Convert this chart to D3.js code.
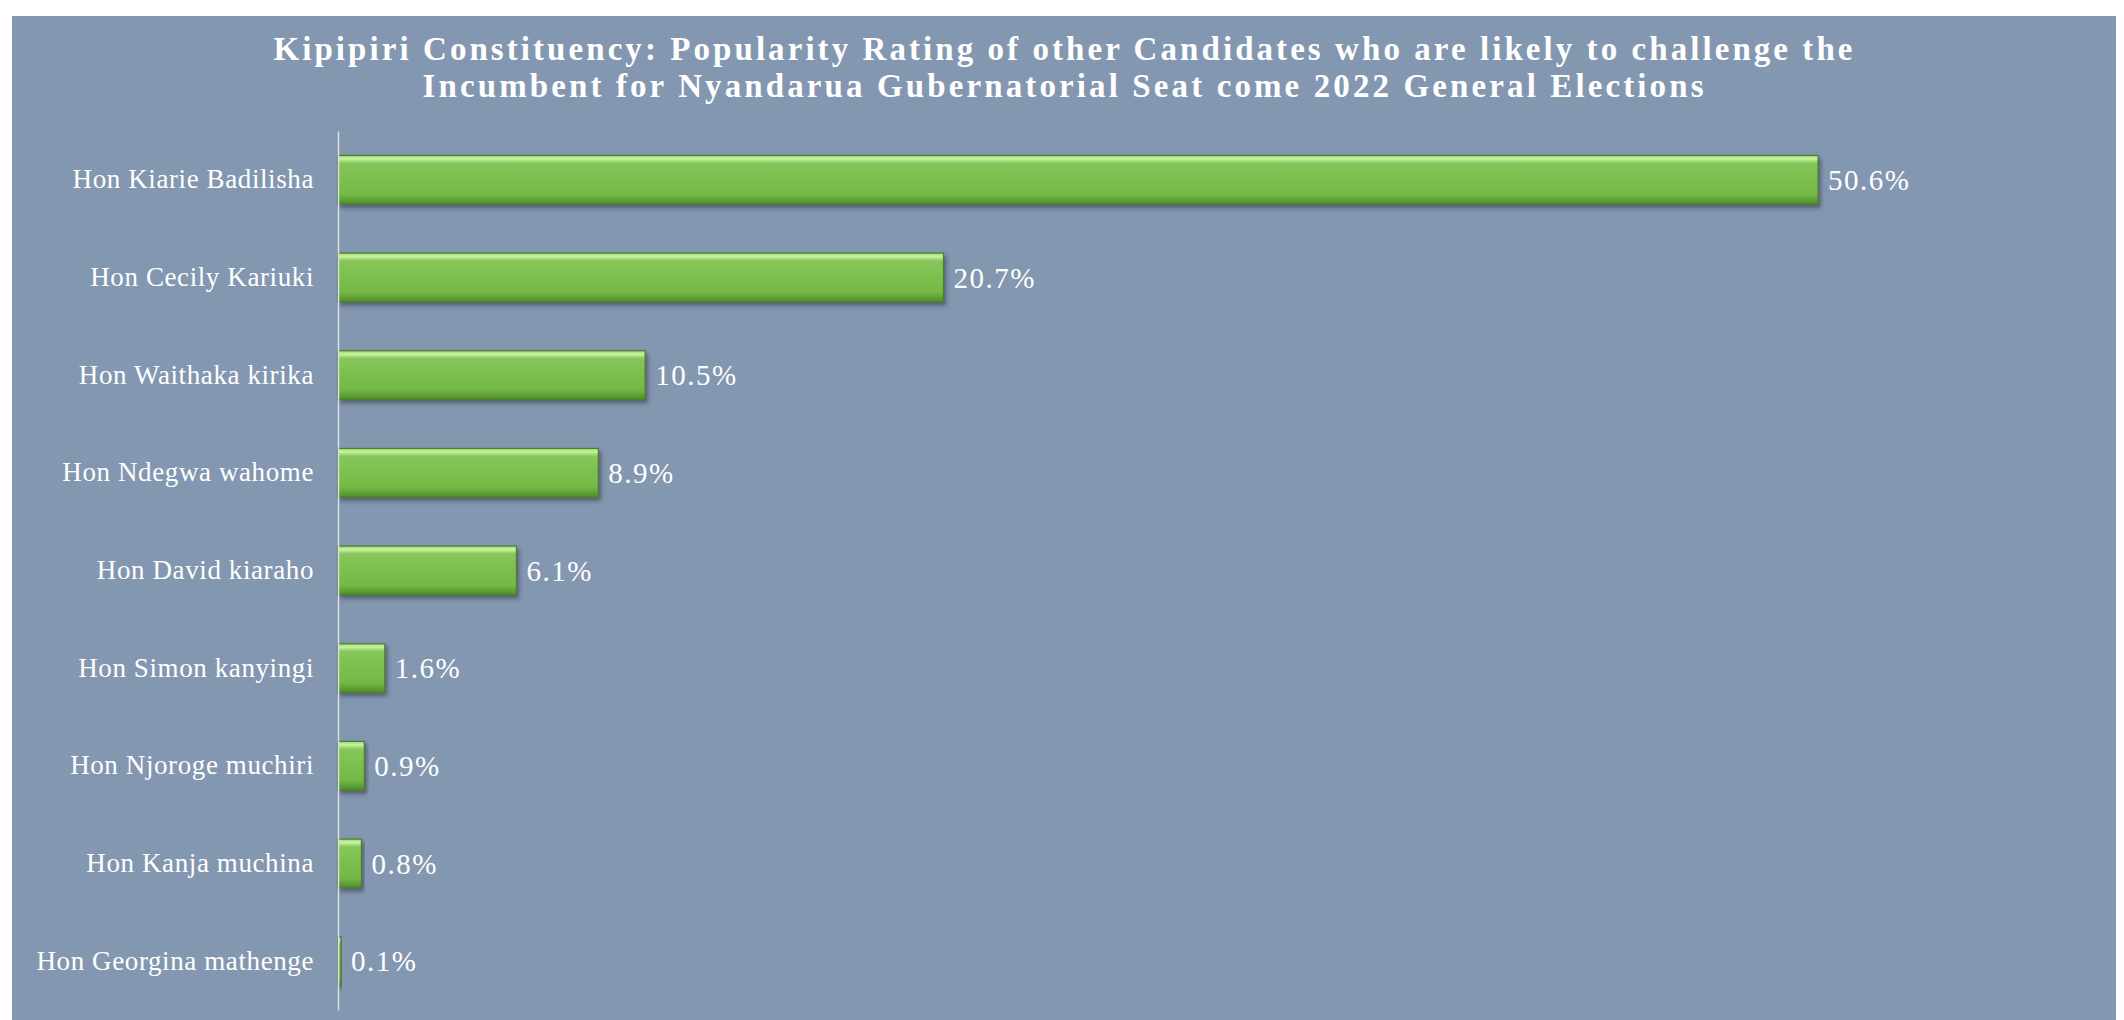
<!DOCTYPE html>
<html>
<head>
<meta charset="utf-8">
<script src="https://cdn.jsdelivr.net/npm/d3@7"></script>
<style>
  body { margin: 0; background: #ffffff; }
  svg { display: block; }
</style>
</head>
<body>
<svg id="chart"></svg>
<script>
// Kipipiri popularity chart

var candidates = [
  "Hon Kiarie Badilisha",
  "Hon Cecily Kariuki",
  "Hon Waithaka kirika",
  "Hon Ndegwa wahome",
  "Hon David kiaraho",
  "Hon Simon kanyingi",
  "Hon Njoroge muchiri",
  "Hon Kanja muchina",
  "Hon Georgina mathenge"
];
var ratings = [50.6, 20.7, 10.5, 8.9, 6.1, 1.6, 0.9, 0.8, 0.1];
var titleLines = [
  "Kipipiri Constituency: Popularity Rating of other Candidates  who are likely to challenge the",
  "Incumbent for Nyandarua Gubernatorial Seat come 2022 General Elections"
];

var width = 2124, height = 1020;
var svg = d3.select("#chart").attr("width", width).attr("height", height);

// green glossy bar gradient + shadow
var defs = svg.append("defs");
var grad = defs.append("linearGradient")
  .attr("id", "barGrad")
  .attr("x1", 0).attr("y1", 0).attr("x2", 0).attr("y2", 1);
grad.append("stop").attr("offset", "0%").attr("stop-color", "#9fd672");
grad.append("stop").attr("offset", "7%").attr("stop-color", "#c6f3a0");
grad.append("stop").attr("offset", "16%").attr("stop-color", "#86c65a");
grad.append("stop").attr("offset", "80%").attr("stop-color", "#74b944");
grad.append("stop").attr("offset", "100%").attr("stop-color", "#4f8c2a");

var shadow = defs.append("filter").attr("id", "shadow")
  .attr("x", "-5%").attr("y", "-20%").attr("width", "120%").attr("height", "160%");
shadow.append("feDropShadow")
  .attr("dx", 2).attr("dy", 3).attr("stdDeviation", 2)
  .attr("flood-color", "#2a3340").attr("flood-opacity", 0.55);

// background panel
svg.append("rect")
  .attr("x", 12).attr("y", 16)
  .attr("width", 2104).attr("height", height - 16)
  .attr("fill", "#8497b0");

// title
svg.append("g")
  .selectAll("text")
  .data(titleLines)
  .enter()
  .append("text")
  .attr("x", 1063)
  .attr("y", function (d, i) { return 60 + i * 37; })
  .attr("text-anchor", "middle")
  .attr("fill", "#ffffff")
  .attr("font-family", "Liberation Serif, serif")
  .attr("font-weight", "600")
  .attr("font-size", "33px")
  .attr("textLength", function (d, i) { return i == 0 ? 1579 : 1281; })
  .attr("lengthAdjust", "spacing")
  .text(function (d) { return d; });

var x = d3.scaleLinear().domain([0, 60]).range([338, 2093]);
var y = d3.scaleBand()
  .domain(candidates)
  .range([131, 1010])
  .paddingInner(0.5)
  .paddingOuter(0.25);

var data = candidates.map(function (c, i) {
  return { name: c, value: ratings[i] };
});

// bars
svg.append("g")
  .selectAll("rect")
  .data(data)
  .enter()
  .append("rect")
  .attr("x", x(0))
  .attr("y", function (d) { return y(d.name); })
  .attr("width", function (d) { return Math.max(x(d.value) - x(0), 2); })
  .attr("height", y.bandwidth())
  .attr("fill", "url(#barGrad)")
  .attr("stroke", "#4e7d2e")
  .attr("stroke-width", 1.2)
  .attr("filter", "url(#shadow)");

// value labels
svg.append("g")
  .selectAll("text")
  .data(data)
  .enter()
  .append("text")
  .attr("x", function (d) { return x(d.value) + 10; })
  .attr("y", function (d) { return y(d.name) + y.bandwidth() / 2; })
  .attr("dy", "0.35em")
  .attr("fill", "#ffffff")
  .attr("font-family", "Liberation Serif, serif")
  .attr("font-size", "29px")
  .attr("letter-spacing", "1.5px")
  .text(function (d) { return d.value.toFixed(1) + "%"; });

// category axis
var axis = svg.append("g")
  .attr("transform", "translate(" + x(0) + ",0)")
  .call(d3.axisLeft(y).tickSize(0).tickPadding(24));
axis.select(".domain").attr("stroke", "#d9dde5").attr("stroke-width", 1.5);
axis.selectAll("text")
  .attr("fill", "#ffffff")
  .attr("font-family", "Liberation Serif, serif")
  .attr("font-size", "27px")
  .attr("letter-spacing", "0.6px");
</script>
</body>
</html>
